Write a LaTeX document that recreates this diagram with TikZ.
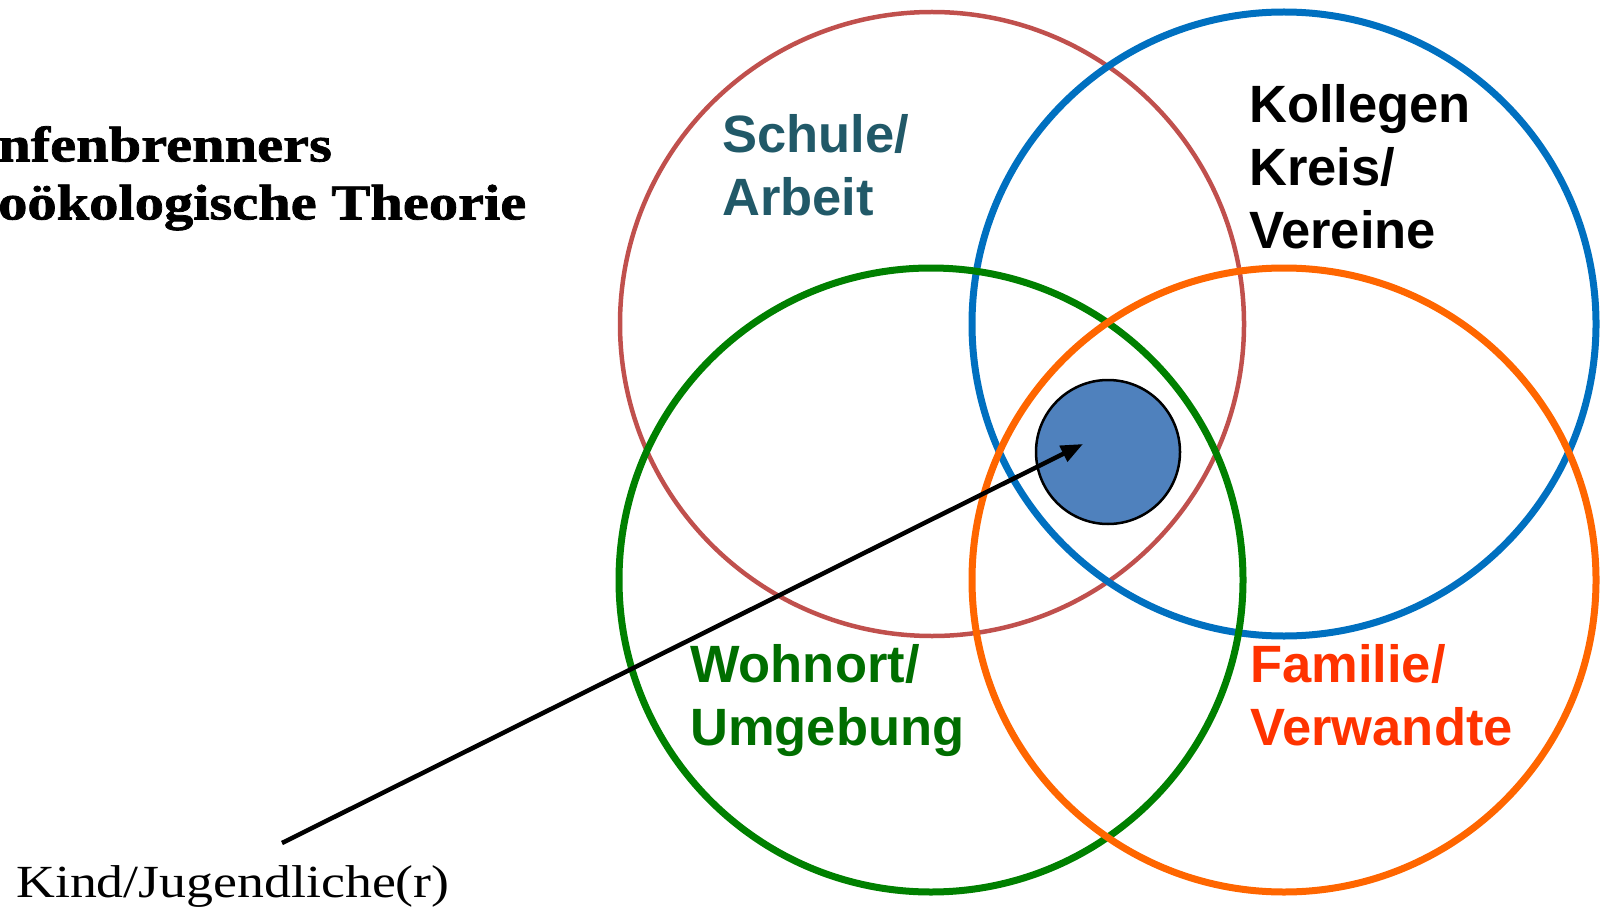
\documentclass[tikz,border=0pt]{standalone}
\usepackage{fontspec}
\setmainfont{Liberation Serif}
\newfontfamily\labelfont{Liberation Sans}
\newfontfamily\titlefont[FakeStretch=1.17,FakeBold=1.5]{Liberation Serif}
\newfontfamily\kindfont[FakeStretch=1.17]{Liberation Serif}
\usetikzlibrary{arrows.meta}
\definecolor{cred}{RGB}{192,80,77}
\definecolor{cblue}{RGB}{0,112,192}
\definecolor{cgreen}{RGB}{0,128,0}
\definecolor{corange}{RGB}{255,102,0}
\definecolor{cteal}{RGB}{33,89,104}
\definecolor{tgreen}{RGB}{0,110,0}
\definecolor{tred}{RGB}{255,51,0}
\definecolor{cfill}{RGB}{79,129,189}
\begin{document}
\begin{tikzpicture}[x=1pt,y=-1pt,
  ring/.style={circle, draw, inner sep=0pt, minimum size=624pt},
  lab/.style={anchor=north west, inner sep=0pt, align=left,
    font=\labelfont\bfseries\fontsize{52.5}{63}\selectfont},
  pointer/.style={line width=4.5pt, -{Triangle[length=22pt,width=17pt]}}
]
\useasboundingbox (0,0) rectangle (1602,909);
\node[ring, draw=cred, line width=4.5pt] (schule) at (932,324) {};
\node[ring, draw=cblue, line width=7pt] (kollegen) at (1284,324) {};
\node[ring, draw=cgreen, line width=7pt] (wohnort) at (931,580) {};
\node[ring, draw=corange, line width=7pt] (familie) at (1284,580) {};
\node[circle, draw=black, line width=2.5pt, fill=cfill, minimum size=144pt, inner sep=0pt] (kind) at (1108,452) {};

\node[lab, text=cteal] (schuletext) at (722,114) {Schule/\\Arbeit};
\node[lab, text=black] (kollegentext) at (1249,84) {Kollegen\\Kreis/\\Vereine};
\node[lab, text=tgreen] (wohnorttext) at (690,644) {Wohnort/\\Umgebung};
\node[lab, text=tred] (familietext) at (1250,644) {Familie/\\Verwandte};

\node[anchor=north west, inner sep=0pt, align=left,
  font=\titlefont\bfseries\fontsize{50}{58}\selectfont] (title) at (-2,126)
  {nfenbrenners\\oökologische Theorie};

\node[anchor=base west, inner sep=0pt,
  font=\kindfont\fontsize{46}{50}\selectfont] (kindtext) at (16,897) {Kind/Jugendliche(r)};

\coordinate (tail) at (282,843);
\coordinate (tip) at (1083,444);
\draw[pointer] (tail) -- (tip);
\end{tikzpicture}
\end{document}
